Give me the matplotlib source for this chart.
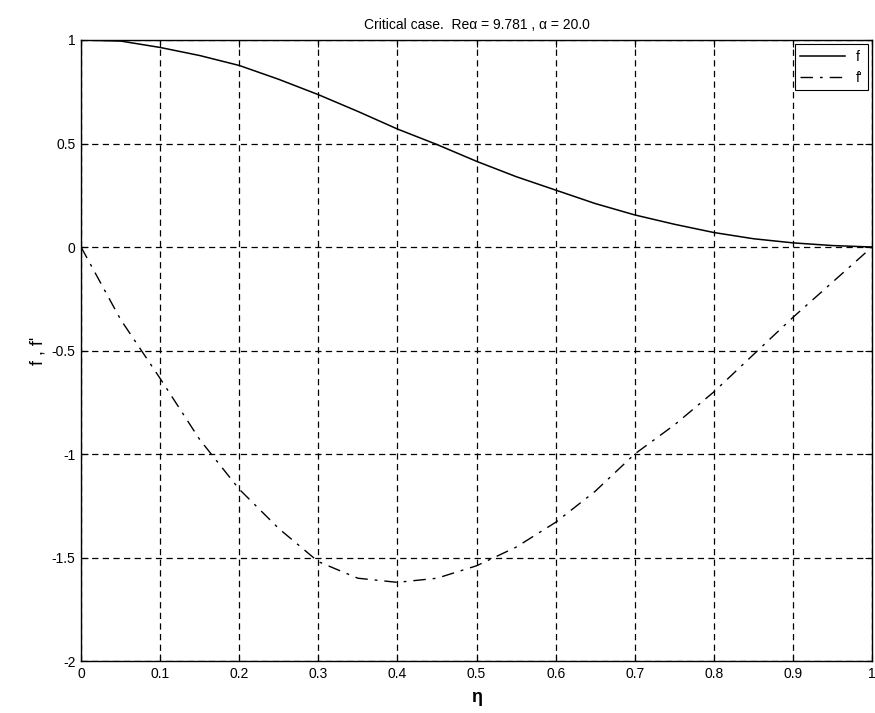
import numpy as np
import matplotlib
matplotlib.use('Agg')
import matplotlib.pyplot as plt

plt.rcParams['font.family'] = ['Liberation Sans', 'DejaVu Sans']

eta = [0.0, 0.05, 0.1, 0.15, 0.2, 0.25, 0.3, 0.35, 0.4, 0.45, 0.5,
       0.55, 0.6, 0.65, 0.7, 0.75, 0.8, 0.85, 0.9, 0.95, 1.0]
f = [1.0, 0.995, 0.964, 0.925, 0.877, 0.81, 0.736, 0.655, 0.570, 0.495, 0.414,
     0.34, 0.275, 0.21, 0.155, 0.11, 0.07, 0.04, 0.02, 0.007, 0.0]
fp = [0.0, -0.35, -0.635, -0.93, -1.17, -1.36, -1.52, -1.60, -1.62, -1.60, -1.54,
      -1.45, -1.33, -1.18, -1.0, -0.86, -0.70, -0.52, -0.34, -0.17, 0.0]

xticks = np.arange(0, 1.01, 0.1)
xticklabels = ['0', '0.1', '0.2', '0.3', '0.4', '0.5', '0.6', '0.7', '0.8', '0.9', '1']
yticks = [-2, -1.5, -1, -0.5, 0, 0.5, 1]
yticklabels = ['-2', '-1.5', '-1', '-0.5', '0', '0.5', '1']

fig = plt.figure(figsize=(8.75, 7.13), dpi=100)
ax = fig.add_axes([0.0926, 0.0729, 0.904, 0.871])

ax.plot(eta, f, color='black', lw=1.1, label='f')
ax.plot(eta, fp, color='black', lw=1.0, linestyle=(0, (9, 5, 2, 5)), label="f'")

ax.set_xlim(0, 1)
ax.set_ylim(-2, 1)
ax.set_xticks(xticks)
ax.set_xticklabels(xticklabels)
ax.set_yticks(yticks)
ax.set_yticklabels(yticklabels)
ax.tick_params(direction='in', length=5, width=0.8, top=True, right=True,
               labelsize=10, pad=4)
ax.grid(True, color='black', linestyle=(0, (5, 3.5)), linewidth=0.9)
for s in ax.spines.values():
    s.set_linewidth(1.0)

ax.set_title('Critical case.  Re\u03b1 = 9.781 , \u03b1 = 20.0', fontsize=10, pad=8)
ax.set_xlabel('\u03b7', fontsize=13, fontweight='bold', labelpad=6)
ax.set_ylabel("f , f'", fontsize=13, labelpad=4)

leg = ax.legend(loc='upper right', fontsize=10, fancybox=False, framealpha=1,
                edgecolor='black', handlelength=3.2, borderaxespad=0.3)
leg.get_frame().set_linewidth(0.8)

fig.savefig('out.png', dpi=100)
